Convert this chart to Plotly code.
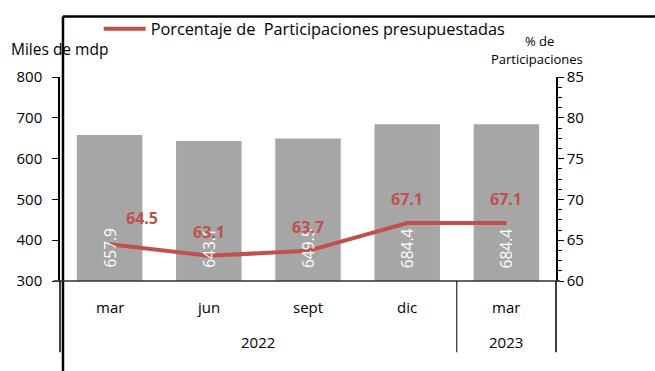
import plotly.graph_objects as go

# Quarterly data
months = ["mar", "jun", "sept", "dic", "mar"]
years = ["2022", "2022", "2022", "2022", "2023"]
participaciones = [657.9, 643.1, 649.5, 684.4, 684.4]      # miles de mdp
porcentaje = [64.5, 63.1, 63.7, 67.1, 67.1]                 # % de participaciones

year_groups = ["2022", "2023"]
left_ticks = [300, 400, 500, 600, 700, 800]
right_ticks = [60, 65, 70, 75, 80, 85]

FONT = "Open Sans"
BAR = "#A6A6A6"
RED = "#C0504D"

xs = list(range(len(months)))

fig = go.Figure()
fig.add_trace(go.Bar(
    x=xs, y=participaciones, marker=dict(color=BAR, line=dict(width=0)),
    showlegend=False, hoverinfo="y", name="Participaciones",
))
fig.add_trace(go.Scatter(
    x=xs, y=porcentaje, yaxis="y2", mode="lines",
    line=dict(color=RED, width=4),
    name="Porcentaje de  Participaciones presupuestadas",
))

ann = []
# values inside the bars, rotated
for x, v in zip(xs, participaciones):
    ann.append(dict(x=x, y=left_ticks[0], xref="x", yref="y", text=f"{v:.1f}",
                    textangle=-90, showarrow=False, yanchor="bottom", yshift=11,
                    font=dict(family=FONT, size=15.5, color="white")))
# percentage labels above the line
for i, (x, v) in enumerate(zip(xs, porcentaje)):
    ann.append(dict(x=x, y=v, xref="x", yref="y2", text=f"{v:.1f}",
                    showarrow=False, yanchor="middle",
                    xshift=32 if i == 0 else 0, yshift=26 if i == 0 else 24,
                    font=dict(family=FONT, size=16, color=RED, weight="bold")))
# category labels: months and years
for x, m in zip(xs, months):
    ann.append(dict(x=x, y=0, xref="x", yref="paper", text=m, showarrow=False,
                    yanchor="middle", yshift=-26,
                    font=dict(family=FONT, size=15, color="black")))
for g in year_groups:
    idx = [i for i, y in enumerate(years) if y == g]
    ann.append(dict(x=(idx[0] + idx[-1]) / 2, y=0, xref="x", yref="paper", text=g,
                    showarrow=False, yanchor="middle", yshift=-61,
                    font=dict(family=FONT, size=15, color="black")))
# axis titles
ann.append(dict(x=0, y=1, xref="paper", yref="paper", text="Miles de mdp",
                showarrow=False, xanchor="left", yanchor="middle",
                xshift=-51, yshift=28, font=dict(family=FONT, size=15.5, color="black")))
ann.append(dict(x=1, y=1, xref="paper", yref="paper", text="% de",
                showarrow=False, xanchor="center", yanchor="middle",
                xshift=-17, yshift=36, font=dict(family=FONT, size=13, color="black")))
ann.append(dict(x=1, y=1, xref="paper", yref="paper", text="Participaciones",
                showarrow=False, xanchor="center", yanchor="middle",
                xshift=-19, yshift=18.5, font=dict(family=FONT, size=13, color="black")))

H = 206.0  # plot-area height in px, for paper offsets
def py(px_below):
    return -px_below / H

shapes = [
    # outer frame (left and top)
    dict(type="line", xref="paper", yref="paper", x0=0.006, x1=0.006, y0=1.296, y1=-0.5,
         line=dict(color="black", width=2.5)),
    dict(type="line", xref="paper", yref="paper", x0=0.006, x1=1.3, y0=1.296, y1=1.296,
         line=dict(color="black", width=2.5)),
    # category axis baseline
    dict(type="line", xref="paper", yref="paper", x0=-0.013, x1=1.008, y0=0, y1=0,
         line=dict(color="#303030", width=1.5)),
    # extensions of the value axes through the category labels
    dict(type="line", xref="paper", yref="paper", x0=0, x1=0, y0=0, y1=py(72),
         line=dict(color="black", width=1.5)),
    dict(type="line", xref="paper", yref="paper", x0=1, x1=1, y0=0, y1=py(72),
         line=dict(color="black", width=1.5)),
    # year group divider
    dict(type="line", xref="x", yref="paper", x0=3.5, x1=3.5, y0=0, y1=py(72),
         line=dict(color="black", width=1)),
]

fig.update_layout(
    width=655, height=371,
    margin=dict(l=60, r=99, t=75, b=90),
    paper_bgcolor="white", plot_bgcolor="white",
    font=dict(family=FONT, size=15, color="black"),
    bargap=0.34,
    xaxis=dict(range=[-0.5, 4.5], showticklabels=False, ticks="", showgrid=False,
               zeroline=False, showline=False),
    yaxis=dict(range=[300, 800], tickvals=left_ticks, ticks="outside", ticklen=6,
               tickcolor="black", showline=True, linecolor="black", linewidth=1.5,
               showgrid=False, zeroline=False, ticklabelstandoff=7,
               tickfont=dict(family=FONT, size=15)),
    yaxis2=dict(range=[60, 85], tickvals=right_ticks, overlaying="y", side="right",
                ticks="outside", ticklen=6, tickcolor="black", showline=True,
                linecolor="black", linewidth=1.5, showgrid=False, zeroline=False,
                minor=dict(dtick=1.25, ticks="outside", ticklen=4, tickcolor="black"),
                tickfont=dict(family=FONT, size=15)),
    legend=dict(x=0.078, y=1.235, xanchor="left", yanchor="middle", orientation="h",
                bgcolor="rgba(0,0,0,0)", font=dict(family=FONT, size=16.3),
                itemwidth=42),
    showlegend=True,
    annotations=ann, shapes=shapes,
)

fig.write_html("out.html")
